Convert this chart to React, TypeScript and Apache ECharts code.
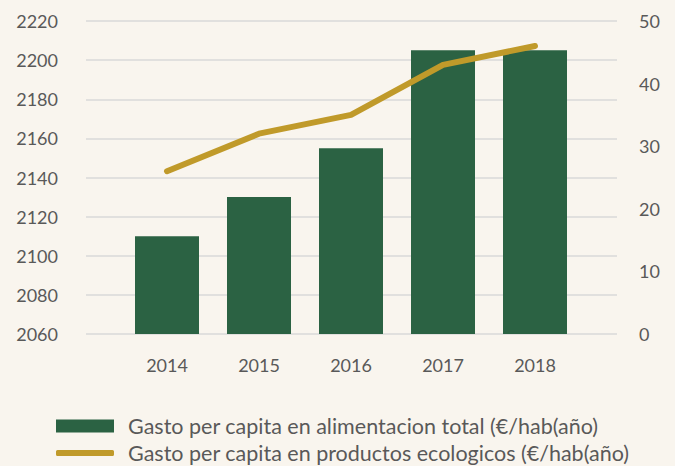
import React, { useEffect, useRef } from "react";
import * as echarts from "echarts";

const years = ["2014", "2015", "2016", "2017", "2018"];
const gastoTotal = [2110, 2130, 2155, 2205, 2205];
const gastoEco = [26, 32, 35, 43, 46];
const seriesNames = [
  "Gasto per capita en alimentacion total (€/hab(año)",
  "Gasto per capita en productos ecologicos (€/hab(año)",
];

const TEXT = "#595959";
const FONT = "Lato, 'Noto Sans', sans-serif";
const BAR = "#2B6243";
const LINE = "#C09A2A";

export default function App() {
  const ref = useRef<HTMLDivElement>(null);
  useEffect(() => {
    if (!ref.current) return;
    const chart = echarts.init(ref.current, undefined, { renderer: "svg" });
    const top = 21;
    const bottom = 466 - 334;
    const legendText = { fontSize: 21.5, color: TEXT, fontFamily: FONT, padding: [0, 0, 0, 9] };
    chart.setOption({
      animation: false,
      backgroundColor: "#F9F5EE",
      textStyle: { fontFamily: FONT },
      grid: [
        { left: 86, right: 58, top, bottom },
        { left: 121, right: 94, top, bottom },
      ],
      legend: [
        {
          left: 56,
          top: 415,
          padding: 0,
          itemWidth: 58,
          itemHeight: 13,
          textStyle: legendText,
          data: [{ name: seriesNames[0], icon: "rect" }],
        },
        {
          left: 56,
          top: 442,
          padding: 0,
          itemWidth: 58,
          itemHeight: 6,
          textStyle: legendText,
          data: [{ name: seriesNames[1], icon: "roundRect", itemStyle: { color: LINE } }],
        },
      ],
      xAxis: [
        { gridIndex: 0, type: "category", data: years, show: false },
        {
          gridIndex: 1,
          type: "category",
          data: years,
          axisLine: { show: false },
          axisTick: { show: false },
          axisLabel: { color: TEXT, fontSize: 18, margin: 22, fontFamily: FONT },
        },
      ],
      yAxis: [
        {
          gridIndex: 0,
          type: "value",
          min: 2060,
          max: 2220,
          interval: 20,
          position: "left",
          axisLine: { show: false },
          axisTick: { show: false },
          axisLabel: { color: TEXT, fontSize: 18, margin: 28, fontFamily: FONT, formatter: (v: number) => String(v) },
          splitLine: { lineStyle: { color: "#D9D9D9", width: 1.5 } },
        },
        {
          gridIndex: 0,
          type: "value",
          min: 0,
          max: 50,
          interval: 10,
          position: "right",
          axisLine: { show: false },
          axisTick: { show: false },
          axisLabel: { color: TEXT, fontSize: 18, margin: 22, fontFamily: FONT },
          splitLine: { show: false },
        },
        { gridIndex: 1, type: "value", min: 2060, max: 2220, interval: 20, show: false, splitLine: { show: false } },
        { gridIndex: 1, type: "value", min: 0, max: 50, interval: 10, show: false, position: "right", splitLine: { show: false } },
      ],
      series: [
        {
          name: seriesNames[0],
          type: "bar",
          xAxisIndex: 1,
          yAxisIndex: 2,
          data: gastoTotal,
          barWidth: 64,
          itemStyle: { color: BAR },
        },
        {
          name: seriesNames[1],
          type: "line",
          xAxisIndex: 1,
          yAxisIndex: 3,
          data: gastoEco,
          symbol: "none",
          lineStyle: { color: LINE, width: 6, cap: "round", join: "round" },
          itemStyle: { color: LINE },
        },
      ],
    });
    return () => chart.dispose();
  }, []);
  return <div ref={ref} style={{ width: 675, height: 466, position: "fixed", left: 0, top: 0 }} />;
}
